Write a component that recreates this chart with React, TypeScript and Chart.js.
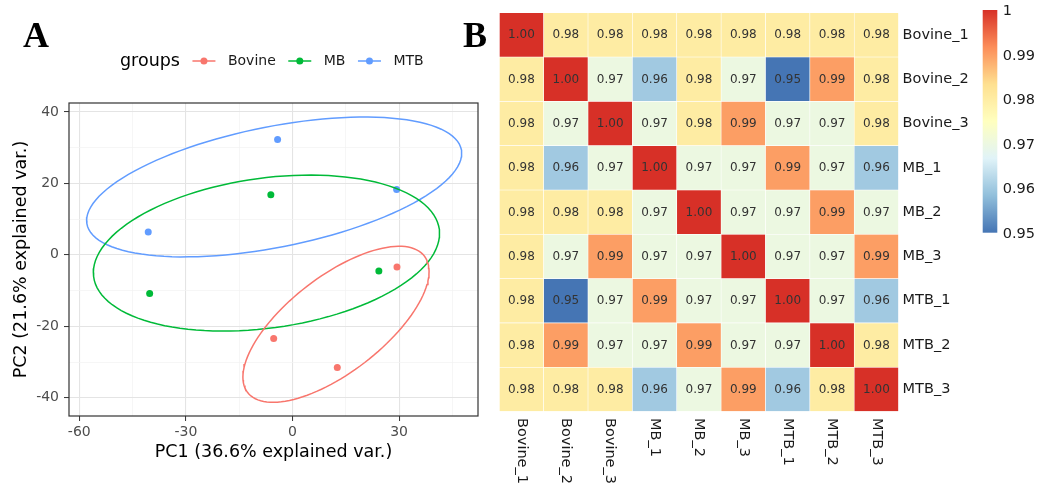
import React, { useEffect, useRef } from 'react';
import { Chart, registerables } from 'chart.js';
Chart.register(...registerables);

// ---------- Panel A data (PCA scores) ----------
const groupNames = ['Bovine', 'MB', 'MTB'];
const groupColors = ['#F8766D', '#00BA38', '#619CFF'];
const pc1Bovine = [29.4, -5.3, 12.6];
const pc2Bovine = [-3.4, -23.4, -31.5];
const pc1MB = [-6.1, -40.2, 24.3];
const pc2MB = [16.8, -10.8, -4.5];
const pc1MTB = [-4.2, 29.3, -40.6];
const pc2MTB = [32.3, 18.3, 6.4];
const xMajorTicks = [-60, -30, 0, 30];
const xMinorTicks = [-45, -15, 15, 45];
const yMajorTicks = [-40, -20, 0, 20, 40];
const yMinorTicks = [-30, -10, 10, 30];
const xTitle = 'PC1 (36.6% explained var.)';
const yTitle = 'PC2 (21.6% explained var.)';
const legendTitle = 'groups';
const ellipseProb = 0.68;

// ---------- Panel B data (correlation matrix) ----------
const samples = ['Bovine_1', 'Bovine_2', 'Bovine_3', 'MB_1', 'MB_2', 'MB_3', 'MTB_1', 'MTB_2', 'MTB_3'];
const rowBovine1 = [1.0, 0.98, 0.98, 0.98, 0.98, 0.98, 0.98, 0.98, 0.98];
const rowBovine2 = [0.98, 1.0, 0.97, 0.96, 0.98, 0.97, 0.95, 0.99, 0.98];
const rowBovine3 = [0.98, 0.97, 1.0, 0.97, 0.98, 0.99, 0.97, 0.97, 0.98];
const rowMB1 = [0.98, 0.96, 0.97, 1.0, 0.97, 0.97, 0.99, 0.97, 0.96];
const rowMB2 = [0.98, 0.98, 0.98, 0.97, 1.0, 0.97, 0.97, 0.99, 0.97];
const rowMB3 = [0.98, 0.97, 0.99, 0.97, 0.97, 1.0, 0.97, 0.97, 0.99];
const rowMTB1 = [0.98, 0.95, 0.97, 0.99, 0.97, 0.97, 1.0, 0.97, 0.96];
const rowMTB2 = [0.98, 0.99, 0.97, 0.97, 0.99, 0.97, 0.97, 1.0, 0.98];
const rowMTB3 = [0.98, 0.98, 0.98, 0.96, 0.97, 0.99, 0.96, 0.98, 1.0];
const colorbarTicks = [1, 0.99, 0.98, 0.97, 0.96, 0.95];
const rampColors = ['#4575B4', '#91BFDB', '#E0F3F8', '#FFFFBF', '#FEE090', '#FC8D59', '#D73027'];
const corrMin = 0.95;
const corrMax = 1;

const corrMatrix = [rowBovine1, rowBovine2, rowBovine3, rowMB1, rowMB2, rowMB3, rowMTB1, rowMTB2, rowMTB3];
const groupX = [pc1Bovine, pc1MB, pc1MTB];
const groupY = [pc2Bovine, pc2MB, pc2MTB];

const FONT = '"DejaVu Sans", sans-serif';

function ellipsePoints(xs: number[], ys: number[], prob: number) {
  const n = xs.length;
  const mx = xs.reduce((a, b) => a + b, 0) / n;
  const my = ys.reduce((a, b) => a + b, 0) / n;
  let sxx = 0, syy = 0, sxy = 0;
  for (let i = 0; i < n; i++) {
    sxx += (xs[i] - mx) ** 2;
    syy += (ys[i] - my) ** 2;
    sxy += (xs[i] - mx) * (ys[i] - my);
  }
  sxx /= n - 1; syy /= n - 1; sxy /= n - 1;
  const a = Math.sqrt(sxx);
  const b = sxy / a;
  const c = Math.sqrt(Math.max(syy - b * b, 0));
  const ed = Math.sqrt(-2 * Math.log(1 - prob));
  const pts: { x: number; y: number }[] = [];
  for (let i = 0; i <= 120; i++) {
    const t = -Math.PI + (2 * Math.PI * i) / 120;
    pts.push({ x: mx + ed * a * Math.cos(t), y: my + ed * (b * Math.cos(t) + c * Math.sin(t)) });
  }
  return pts;
}

function hexToRgb(h: string) {
  const v = parseInt(h.slice(1), 16);
  return [(v >> 16) & 255, (v >> 8) & 255, v & 255];
}

function rampColor(v: number) {
  const t = Math.min(1, Math.max(0, (v - corrMin) / (corrMax - corrMin)));
  const pos = t * (rampColors.length - 1);
  const i = Math.min(Math.floor(pos), rampColors.length - 2);
  const f = pos - i;
  const c0 = hexToRgb(rampColors[i]);
  const c1 = hexToRgb(rampColors[i + 1]);
  const m = c0.map((c, k) => Math.round(c + (c1[k] - c) * f));
  return `rgb(${m[0]},${m[1]},${m[2]})`;
}

function PanelA() {
  const ref = useRef<HTMLCanvasElement>(null);
  useEffect(() => {
    if (!ref.current) return;
    const datasets: any[] = [];
    groupNames.forEach((g, i) => {
      datasets.push({
        label: g + ' ellipse',
        data: ellipsePoints(groupX[i], groupY[i], ellipseProb),
        showLine: true,
        pointRadius: 0,
        borderColor: groupColors[i],
        borderWidth: 1.5,
        fill: false,
        tension: 0,
      });
    });
    groupNames.forEach((g, i) => {
      datasets.push({
        label: g,
        data: groupX[i].map((x, k) => ({ x, y: groupY[i][k] })),
        pointRadius: 3.5,
        pointBackgroundColor: groupColors[i],
        pointBorderWidth: 0,
        showLine: false,
      });
    });
    const isMajorX = (v: number) => xMajorTicks.includes(v);
    const isMajorY = (v: number) => yMajorTicks.includes(v);
    const decor = {
      id: 'decorA',
      afterDatasetsDraw(chart: any) {
        const { ctx, chartArea: ca } = chart;
        ctx.save();
        ctx.strokeStyle = '#333333';
        ctx.lineWidth = 1.2;
        ctx.strokeRect(ca.left, ca.top, ca.right - ca.left, ca.bottom - ca.top);
        ctx.restore();
      },
      afterDraw(chart: any) {
        const ctx = chart.ctx;
        ctx.save();
        ctx.fillStyle = '#000';
        ctx.font = 'bold 36px "Liberation Serif", serif';
        ctx.textBaseline = 'alphabetic';
        ctx.fillText('A', 23, 47);
        const ly = 61;
        ctx.textBaseline = 'middle';
        ctx.font = `17.5px ${FONT}`;
        ctx.fillText(legendTitle, 120, ly);
        let x = 120 + ctx.measureText(legendTitle).width + 12.5;
        ctx.font = `14px ${FONT}`;
        groupNames.forEach((g, i) => {
          ctx.strokeStyle = groupColors[i];
          ctx.lineWidth = 1.5;
          ctx.beginPath();
          ctx.moveTo(x, ly);
          ctx.lineTo(x + 23, ly);
          ctx.stroke();
          ctx.fillStyle = groupColors[i];
          ctx.beginPath();
          ctx.arc(x + 11.5, ly, 3.5, 0, Math.PI * 2);
          ctx.fill();
          x += 23 + 12.5;
          ctx.fillStyle = '#1a1a1a';
          ctx.fillText(g, x, ly);
          x += ctx.measureText(g).width + 12.5;
        });
        ctx.restore();
      },
    };
    const chart = new Chart(ref.current, {
      type: 'scatter',
      data: { datasets },
      options: {
        responsive: false,
        animation: false,
        events: [],
        layout: { padding: { top: 103, left: 0, right: 12, bottom: 0 } },
        plugins: { legend: { display: false }, tooltip: { enabled: false } },
        scales: {
          x: {
            type: 'linear',
            min: -62.9,
            max: 52.2,
            afterBuildTicks: (s: any) => {
              s.ticks = [...xMajorTicks, ...xMinorTicks].sort((a, b) => a - b).map((v) => ({ value: v }));
            },
            afterFit: (s: any) => { s.height = 70; },
            ticks: {
              autoSkip: false,
              maxRotation: 0,
              color: '#4d4d4d',
              font: { size: 14, family: FONT },
              padding: 3,
              callback: (v: any) => (isMajorX(Number(v)) ? String(v) : ''),
            },
            grid: {
              color: (c: any) => (isMajorX(c.tick?.value) ? '#e4e4e4' : '#f2f2f2'),
              lineWidth: (c: any) => (isMajorX(c.tick?.value) ? 1.1 : 0.7),
              tickLength: 5,
              tickWidth: 1,
              tickColor: (c: any) => (isMajorX(c.tick?.value) ? '#333333' : 'rgba(0,0,0,0)'),
            },
            border: { display: false },
            title: { display: true, text: xTitle, color: '#000', font: { size: 17.5, family: FONT }, padding: { top: 0, bottom: 23.5 } },
          },
          y: {
            type: 'linear',
            min: -45.1,
            max: 42.5,
            afterBuildTicks: (s: any) => {
              s.ticks = [...yMajorTicks, ...yMinorTicks].sort((a, b) => a - b).map((v) => ({ value: v }));
            },
            afterFit: (s: any) => { s.width = 69; },
            ticks: {
              autoSkip: false,
              color: '#4d4d4d',
              font: { size: 14, family: FONT },
              padding: 5,
              callback: (v: any) => (isMajorY(Number(v)) ? String(v) : ''),
            },
            grid: {
              color: (c: any) => (isMajorY(c.tick?.value) ? '#e4e4e4' : '#f2f2f2'),
              lineWidth: (c: any) => (isMajorY(c.tick?.value) ? 1.1 : 0.7),
              tickLength: 5,
              tickWidth: 1,
              tickColor: (c: any) => (isMajorY(c.tick?.value) ? '#333333' : 'rgba(0,0,0,0)'),
            },
            border: { display: false },
            title: { display: true, text: yTitle, color: '#000', font: { size: 17.5, family: FONT }, padding: { top: 10.5, bottom: 0 } },
          },
        },
      },
      plugins: [decor],
    } as any);
    return () => chart.destroy();
  }, []);
  return <canvas ref={ref} width={490} height={486} style={{ position: 'absolute', left: 0, top: 0, width: 490, height: 486 }} />;
}

function PanelB() {
  const ref = useRef<HTMLCanvasElement>(null);
  useEffect(() => {
    if (!ref.current) return;
    const datasets = samples.map((rowName, r) => ({
      label: rowName,
      data: samples.map(() => 1),
      backgroundColor: corrMatrix[r].map(rampColor),
      borderColor: 'rgba(255,255,255,0.9)',
      borderWidth: 0.6,
      borderSkipped: false,
      barPercentage: 1,
      categoryPercentage: 1,
    }));
    const cbLeft = 527.7, cbWidth = 14.6, cbTop = 10, cbBottom = 232.7;
    const decor = {
      id: 'decorB',
      afterDatasetsDraw(chart: any) {
        const ctx = chart.ctx;
        ctx.save();
        ctx.font = `12px ${FONT}`;
        ctx.fillStyle = '#333333';
        ctx.textAlign = 'center';
        ctx.textBaseline = 'middle';
        corrMatrix.forEach((row, r) => {
          const meta = chart.getDatasetMeta(r);
          row.forEach((v, c) => {
            const p = meta.data[c].getCenterPoint();
            ctx.fillText(v.toFixed(2), p.x, p.y + 0.5);
          });
        });
        ctx.restore();
      },
      afterDraw(chart: any) {
        const { ctx, chartArea: ca } = chart;
        const xs = chart.scales.x;
        ctx.save();
        // column labels
        ctx.font = `14.5px ${FONT}`;
        ctx.fillStyle = '#1a1a1a';
        ctx.textAlign = 'left';
        ctx.textBaseline = 'middle';
        samples.forEach((s, i) => {
          const x = xs.getPixelForValue(i);
          ctx.save();
          ctx.translate(x, ca.bottom + 6.5);
          ctx.rotate(Math.PI / 2);
          ctx.fillText(s, 0, 0);
          ctx.restore();
        });
        // colour bar
        const grad = ctx.createLinearGradient(0, cbBottom, 0, cbTop);
        rampColors.forEach((col, i) => grad.addColorStop(i / (rampColors.length - 1), col));
        ctx.fillStyle = grad;
        ctx.fillRect(cbLeft, cbTop, cbWidth, cbBottom - cbTop);
        ctx.fillStyle = '#1a1a1a';
        ctx.font = `14.5px ${FONT}`;
        colorbarTicks.forEach((v) => {
          const y = cbTop + ((corrMax - v) / (corrMax - corrMin)) * (cbBottom - cbTop) + 1.5;
          ctx.fillText(v === 1 ? '1' : v.toFixed(2), cbLeft + cbWidth + 5.4, y);
        });
        // panel letter
        ctx.fillStyle = '#000';
        ctx.font = 'bold 36px "Liberation Serif", serif';
        ctx.textBaseline = 'alphabetic';
        ctx.fillText('B', 8, 47);
        ctx.restore();
      },
    };
    const chart = new Chart(ref.current, {
      type: 'bar',
      data: { labels: samples, datasets },
      options: {
        responsive: false,
        animation: false,
        events: [],
        layout: { padding: { top: 10.5, left: 44.3, right: 38.4, bottom: 0 } },
        plugins: { legend: { display: false }, tooltip: { enabled: false } },
        scales: {
          x: {
            type: 'category',
            stacked: true,
            ticks: { display: false },
            grid: { display: false, drawTicks: false },
            border: { display: false },
            afterFit: (s: any) => { s.height = 74.5; },
          },
          y: {
            type: 'linear',
            stacked: true,
            min: 0,
            max: samples.length,
            reverse: true,
            display: false,
          },
          y2: {
            type: 'category',
            labels: samples,
            position: 'right',
            offset: true,
            grid: { display: false, drawTicks: false },
            border: { display: false },
            ticks: { color: '#1a1a1a', font: { size: 14.5, family: FONT }, padding: 4, autoSkip: false },
            afterFit: (s: any) => { s.width = 100; },
          },
        },
      },
      plugins: [decor],
    } as any);
    return () => chart.destroy();
  }, []);
  return <canvas ref={ref} width={582} height={486} style={{ position: 'absolute', left: 455, top: 0, width: 582, height: 486 }} />;
}

export default function App() {
  Chart.defaults.font.family = FONT;
  return (
    <div style={{ position: 'fixed', left: 0, top: 0, width: 1037, height: 486, background: '#fff', overflow: 'hidden' }}>
      <PanelA />
      <PanelB />
    </div>
  );
}
